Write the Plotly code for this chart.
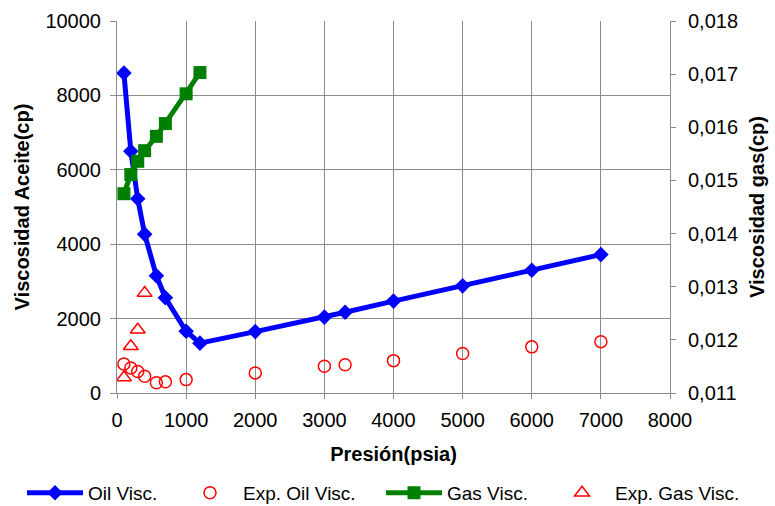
import plotly.graph_objects as go

# Pressure points (psia)
p_oil = [100, 200, 300, 400, 570, 700, 1000, 1200, 2000, 3000, 3300, 4000, 5000, 6000, 7000]
oil_visc = [8600, 6500, 5220, 4270, 3150, 2560, 1660, 1340, 1650, 2040, 2170, 2470, 2880, 3300, 3720]

p_exp_oil = [100, 200, 300, 400, 570, 700, 1000, 2000, 3000, 3300, 4000, 5000, 6000, 7000]
exp_oil_visc = [780, 670, 580, 450, 275, 300, 360, 540, 720, 760, 870, 1060, 1240, 1380]

p_gas = [100, 200, 300, 400, 570, 700, 1000, 1200]
gas_visc = [0.01475, 0.01511, 0.01536, 0.01556, 0.01583, 0.01607, 0.01663, 0.01703]

p_exp_gas = [100, 200, 300, 400]
exp_gas_visc = [0.01129, 0.01188, 0.01219, 0.01288]

x_ticks = list(range(0, 8001, 1000))
y_ticks = list(range(0, 10001, 2000))
y2_ticks = [0.011, 0.012, 0.013, 0.014, 0.015, 0.016, 0.017, 0.018]

FONT = "Liberation Sans, Arial, sans-serif"
GRID = "#8C8C8C"

fig = go.Figure()
fig.add_trace(go.Scatter(
    x=p_oil, y=oil_visc, name="Oil Visc.", mode="lines+markers", legend="legend",
    line=dict(color="#0000FF", width=5),
    marker=dict(symbol="diamond", size=12, color="#0000FF"),
))
fig.add_trace(go.Scatter(
    x=p_exp_oil, y=exp_oil_visc, name="Exp. Oil Visc.", mode="markers", legend="legend2",
    marker=dict(symbol="circle-open", size=12, color="#FF0000", line=dict(width=1.5)),
))
fig.add_trace(go.Scatter(
    x=p_gas, y=gas_visc, name="Gas Visc.", mode="lines+markers", yaxis="y2", legend="legend3",
    line=dict(color="#008000", width=5),
    marker=dict(symbol="square", size=13, color="#008000"),
))
fig.add_trace(go.Scatter(
    x=p_exp_gas, y=exp_gas_visc, name="Exp. Gas Visc.", mode="markers", yaxis="y2", legend="legend4",
    marker=dict(symbol="triangle-up-open", size=13, color="#FF0000", line=dict(width=1.5)),
))


def legend_box(x):
    # one entry per legend box, laid out in a single row under the plot
    return dict(orientation="h", xref="container", yref="container",
                x=x, xanchor="left", y=0.026, yanchor="middle",
                font=dict(size=19), itemwidth=56, bgcolor="rgba(0,0,0,0)")


fig.update_layout(
    width=775, height=506,
    margin=dict(l=117, r=105, t=21, b=113, autoexpand=False),
    paper_bgcolor="white", plot_bgcolor="white",
    separators=",.",
    font=dict(family=FONT, size=20, color="black"),
    showlegend=True,
    legend=legend_box(22 / 775),
    legend2=legend_box(177 / 775),
    legend3=legend_box(381 / 775),
    legend4=legend_box(549 / 775),
    xaxis=dict(
        range=[0, 8000], tickvals=x_ticks, tickformat="d",
        showgrid=True, gridcolor=GRID, gridwidth=1,
        showline=True, linecolor=GRID, linewidth=1,
        ticks="outside", tickcolor=GRID, ticklen=5, ticklabelstandoff=4,
        zeroline=False,
        title=dict(text="<b>Presión(psia)</b>", font=dict(size=20), standoff=16),
    ),
    yaxis=dict(
        range=[0, 10000], tickvals=y_ticks, tickformat="d",
        showgrid=True, gridcolor=GRID, gridwidth=1,
        showline=True, linecolor=GRID, linewidth=1,
        ticks="outside", tickcolor=GRID, ticklen=6, ticklabelstandoff=5,
        zeroline=False,
        title=dict(text="<b>Viscosidad Aceite(cp)</b>", font=dict(size=20), standoff=10),
    ),
    yaxis2=dict(
        overlaying="y", side="right",
        range=[0.011, 0.018], tickvals=y2_ticks, tickformat=".3f",
        showgrid=False,
        showline=True, linecolor=GRID, linewidth=1,
        ticks="outside", tickcolor=GRID, ticklen=5, ticklabelstandoff=8,
        zeroline=False,
        title=dict(text="<b>Viscosidad gas(cp)</b>", font=dict(size=20), standoff=12),
    ),
)

fig.write_html("out.html")
